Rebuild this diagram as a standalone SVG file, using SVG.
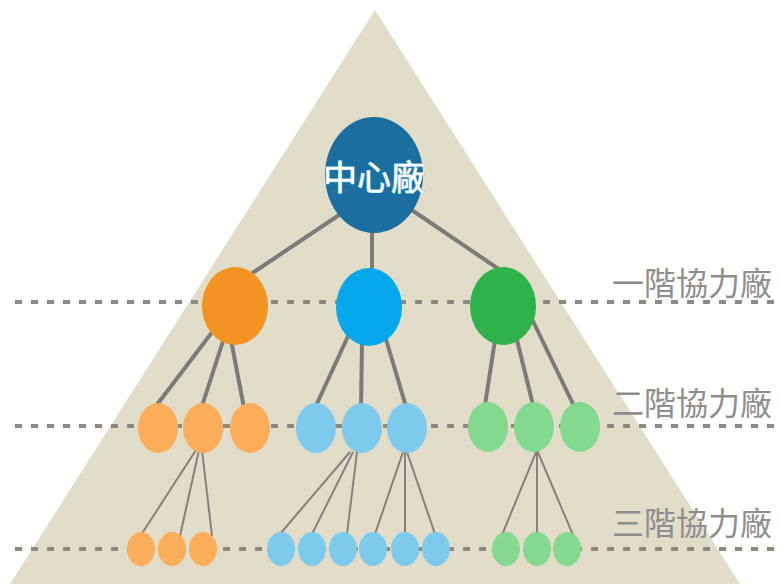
<svg xmlns="http://www.w3.org/2000/svg" width="780" height="584" viewBox="0 0 780 584">
  <defs>
    <style>
      .guide { stroke: #8e8983; stroke-width: 4; stroke-dasharray: 7 9; fill: none; }
      .thick { stroke: #7d7b78; stroke-width: 4; fill: none; }
      .thin { stroke: #85827d; stroke-width: 2; fill: none; }
      .lbl { font-family: "Noto Sans CJK TC", "Noto Sans CJK SC", sans-serif; font-size: 32px; fill: #8e8e8e; }
      .ctr { font-family: "Noto Sans CJK TC", "Noto Sans CJK SC", sans-serif; font-size: 34px; fill: #ffffff; stroke: #9fd8ef; stroke-width: 1.2; paint-order: stroke; }
      .o1 { fill: #f39322; } .b1 { fill: #03a9ec; } .g1 { fill: #2fb24a; }
      .o2 { fill: #fbad5a; } .b2 { fill: #7dcaed; } .g2 { fill: #84d98e; }
    </style>
  </defs>
  <rect width="780" height="584" fill="#ffffff"/>
  <polygon id="pyramid" points="375,10 740,584 10,584" fill="#e1ddc9"/>

  <g id="guides">
    <line class="guide" x1="15" y1="302" x2="780" y2="302"/>
    <line class="guide" x1="15" y1="426" x2="780" y2="426"/>
    <line class="guide" x1="15" y1="549" x2="780" y2="549"/>
  </g>

  <g id="labels">
    <text class="lbl" x="612" y="295">一階協力廠</text>
    <text class="lbl" x="612" y="415">二階協力廠</text>
    <text class="lbl" x="612" y="535">三階協力廠</text>
  </g>

  <g id="connectors">
    <line class="thick" x1="345" y1="211" x2="245" y2="278"/>
    <line class="thick" x1="372" y1="225" x2="372" y2="285"/>
    <line class="thick" x1="400" y1="202" x2="503" y2="272"/>

    <line class="thick" x1="213" y1="331" x2="156" y2="406"/>
    <line class="thick" x1="224" y1="338" x2="202" y2="406"/>
    <line class="thick" x1="231" y1="340" x2="244" y2="408"/>

    <line class="thick" x1="350" y1="332" x2="314" y2="410"/>
    <line class="thick" x1="362" y1="340" x2="361" y2="410"/>
    <line class="thick" x1="385" y1="336" x2="407" y2="410"/>

    <line class="thick" x1="495" y1="340" x2="485" y2="405"/>
    <line class="thick" x1="517" y1="340" x2="533" y2="405"/>
    <line class="thick" x1="530" y1="315" x2="574" y2="406" stroke-width="5"/>

    <line class="thin" x1="196" y1="450" x2="141" y2="535"/>
    <line class="thin" x1="199" y1="450" x2="180" y2="536"/>
    <line class="thin" x1="202" y1="450" x2="212" y2="536"/>

    <line class="thin" x1="350" y1="452" x2="280" y2="534"/>
    <line class="thin" x1="353" y1="452" x2="312" y2="534"/>
    <line class="thin" x1="357" y1="452" x2="347" y2="534"/>

    <line class="thin" x1="403" y1="452" x2="375" y2="534"/>
    <line class="thin" x1="405" y1="452" x2="405" y2="534"/>
    <line class="thin" x1="407" y1="452" x2="435" y2="534"/>

    <line class="thin" x1="537" y1="450" x2="502" y2="535"/>
    <line class="thin" x1="537" y1="450" x2="537" y2="535"/>
    <line class="thin" x1="537" y1="450" x2="573" y2="535"/>
  </g>

  <g id="center">
    <ellipse cx="374" cy="175" rx="49" ry="58" fill="#1a6fa0"/>
    <text class="ctr" x="374" y="190" text-anchor="middle">中心廠</text>
  </g>

  <g id="tier1-orange"><ellipse class="o1" cx="235" cy="306" rx="33" ry="39"/></g>
  <g id="tier1-blue"><ellipse class="b1" cx="369" cy="307" rx="33" ry="39"/></g>
  <g id="tier1-green"><ellipse class="g1" cx="503" cy="306" rx="33" ry="39"/></g>

  <g id="tier2-orange-1"><ellipse class="o2" cx="158" cy="428" rx="20" ry="25"/></g>
  <g id="tier2-orange-2"><ellipse class="o2" cx="203" cy="428" rx="20" ry="25"/></g>
  <g id="tier2-orange-3"><ellipse class="o2" cx="250" cy="428" rx="20" ry="25"/></g>
  <g id="tier2-blue-1"><ellipse class="b2" cx="316" cy="428" rx="20" ry="25"/></g>
  <g id="tier2-blue-2"><ellipse class="b2" cx="362" cy="428" rx="20" ry="25"/></g>
  <g id="tier2-blue-3"><ellipse class="b2" cx="407" cy="428" rx="20" ry="25"/></g>
  <g id="tier2-green-1"><ellipse class="g2" cx="488" cy="427" rx="20" ry="25"/></g>
  <g id="tier2-green-2"><ellipse class="g2" cx="534" cy="427" rx="20" ry="25"/></g>
  <g id="tier2-green-3"><ellipse class="g2" cx="580" cy="427" rx="20" ry="25"/></g>

  <g id="tier3-orange-1"><ellipse class="o2" cx="141" cy="549" rx="14" ry="17"/></g>
  <g id="tier3-orange-2"><ellipse class="o2" cx="172" cy="549" rx="14" ry="17"/></g>
  <g id="tier3-orange-3"><ellipse class="o2" cx="203" cy="549" rx="14" ry="17"/></g>
  <g id="tier3-blue-1"><ellipse class="b2" cx="281" cy="549" rx="14" ry="17"/></g>
  <g id="tier3-blue-2"><ellipse class="b2" cx="312" cy="549" rx="14" ry="17"/></g>
  <g id="tier3-blue-3"><ellipse class="b2" cx="343" cy="549" rx="14" ry="17"/></g>
  <g id="tier3-blue-4"><ellipse class="b2" cx="373" cy="549" rx="14" ry="17"/></g>
  <g id="tier3-blue-5"><ellipse class="b2" cx="405" cy="549" rx="14" ry="17"/></g>
  <g id="tier3-blue-6"><ellipse class="b2" cx="436" cy="549" rx="14" ry="17"/></g>
  <g id="tier3-green-1"><ellipse class="g2" cx="506" cy="549" rx="14" ry="17"/></g>
  <g id="tier3-green-2"><ellipse class="g2" cx="537" cy="549" rx="14" ry="17"/></g>
  <g id="tier3-green-3"><ellipse class="g2" cx="567" cy="549" rx="14" ry="17"/></g>
</svg>
